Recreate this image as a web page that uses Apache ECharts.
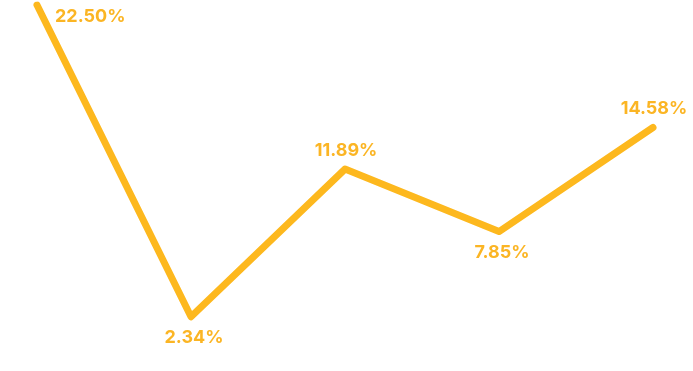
<!DOCTYPE html>
<html><head><meta charset="utf-8">
<script src="https://cdn.jsdelivr.net/npm/echarts@6/dist/echarts.min.js"></script>
<style>html,body{margin:0;padding:0;background:#fff}#c{width:693px;height:371px}</style>
</head><body><div id="c"></div>
<script>
const categories = ['A', 'B', 'C', 'D', 'E'];
const values = [22.50, 2.34, 11.89, 7.85, 14.58];
const labelSides = ['first', 'bottom', 'top', 'bottom', 'top'];

const chart = echarts.init(document.getElementById('c'));
const data = values.map((v, i) => {
  const side = labelSides[i];
  let label;
  if (side === 'first') label = { position: 'right', offset: [13, 12] };
  else if (side === 'bottom') label = { position: 'bottom', distance: 12, offset: [3, 0] };
  else label = { position: 'top', distance: 10, offset: [1, 0] };
  return { value: v, label };
});
chart.setOption({
  animation: false,
  grid: { left: 37, right: 40, top: 5, bottom: 18 },
  xAxis: { type: 'category', data: categories, boundaryGap: false, show: false },
  yAxis: { type: 'value', min: 0, max: 22.5, show: false },
  series: [{
    type: 'line',
    data: data,
    symbol: 'circle',
    symbolSize: 0.01,
    showSymbol: true,
    showAllSymbol: true,
    lineStyle: { color: '#FDB81E', width: 7, cap: 'round', join: 'round' },
    itemStyle: { color: '#FDB81E' },
    label: {
      show: true,
      formatter: p => p.value.toFixed(2) + '%',
      color: '#FBB524',
      fontFamily: 'Inter',
      fontWeight: 'bold',
      fontSize: 18
    }
  }]
});
</script></body></html>
